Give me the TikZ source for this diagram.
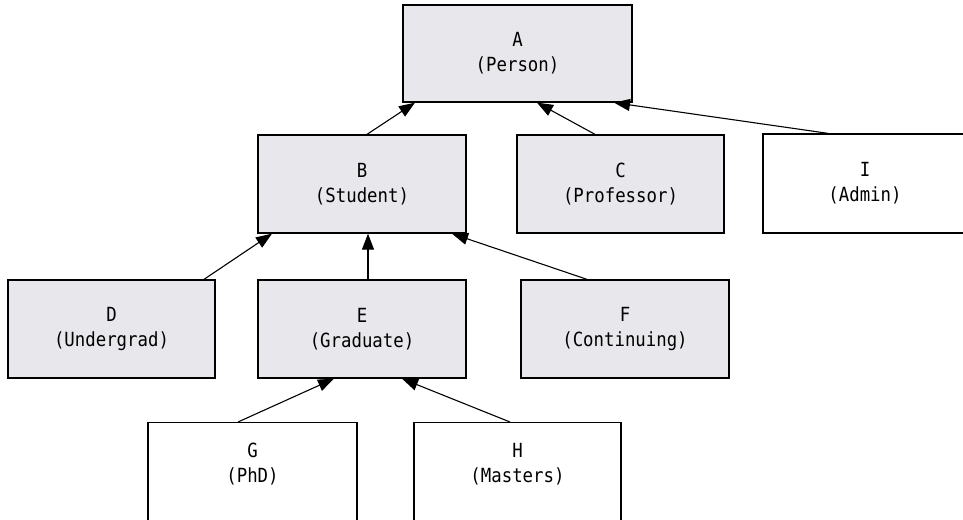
\documentclass[tikz,border=0pt]{standalone}
\usepackage{fontspec}
\setmonofont[FakeStretch=0.89]{DejaVu Sans Mono}
\usetikzlibrary{arrows.meta,calc}
\definecolor{boxgray}{RGB}{232,232,236}
\tikzset{
  box/.style={draw=black, line width=1.3pt, rectangle, align=center,
    font=\ttfamily\fontsize{19.5}{25}\selectfont, inner sep=0pt},
  gbox/.style={box, fill=boxgray},
  wbox/.style={box, fill=white},
  arr/.style={line width=1.1pt, -{Triangle[length=16pt,width=12pt]}}
}
\begin{document}
\begin{tikzpicture}[x=1pt,y=1pt]
\useasboundingbox (0,0) rectangle (963,-519);
\clip (0,0) rectangle (963,-519);
\node[gbox, minimum width=229, minimum height=97] (A) at (517.5,-53.5) {A\\(Person)};
\node[gbox, minimum width=208, minimum height=98] (B) at (362,-184) {B\\(Student)};
\node[gbox, minimum width=207, minimum height=98] (C) at (620.5,-184) {C\\(Professor)};
\node[wbox, minimum width=204, minimum height=99] (I) at (865,-183.5) {I\\(Admin)};
\node[gbox, minimum width=207, minimum height=98] (D) at (111.5,-329) {D\\(Undergrad)};
\node[gbox, minimum width=208, minimum height=98] (E) at (362,-329) {E\\(Graduate)};
\node[gbox, minimum width=208, minimum height=98] (F) at (625,-329) {F\\(Continuing)};
\node[wbox, minimum width=209, minimum height=120, anchor=north,
  label={[box, draw=none, yshift=-42pt, anchor=center]north:G\\(PhD)}] (G) at (252.5,-422) {};
\node[wbox, minimum width=207, minimum height=120, anchor=north,
  label={[box, draw=none, yshift=-42pt, anchor=center]north:H\\(Masters)}] (H) at (517.5,-422) {};
\draw[arr] ([xshift=5]B.north) -- ([xshift=-102.5]A.south);
\draw[arr] ([xshift=-25.5]C.north) -- ([xshift=19.5]A.south);
\draw[arr] ([xshift=-37]I.north) -- ([xshift=96.5]A.south);
\draw[arr] ([xshift=92.5]D.north) -- ([xshift=-90]B.south);
\draw[arr] ([xshift=6]E.north) -- ([xshift=6]B.south);
\draw[arr] ([xshift=-38]F.north) -- ([xshift=90]B.south);
\draw[arr] ([xshift=-14.5]G.north) -- ([xshift=-28]E.south);
\draw[arr] ([xshift=-7.5]H.north) -- ([xshift=40]E.south);
\end{tikzpicture}
\end{document}
